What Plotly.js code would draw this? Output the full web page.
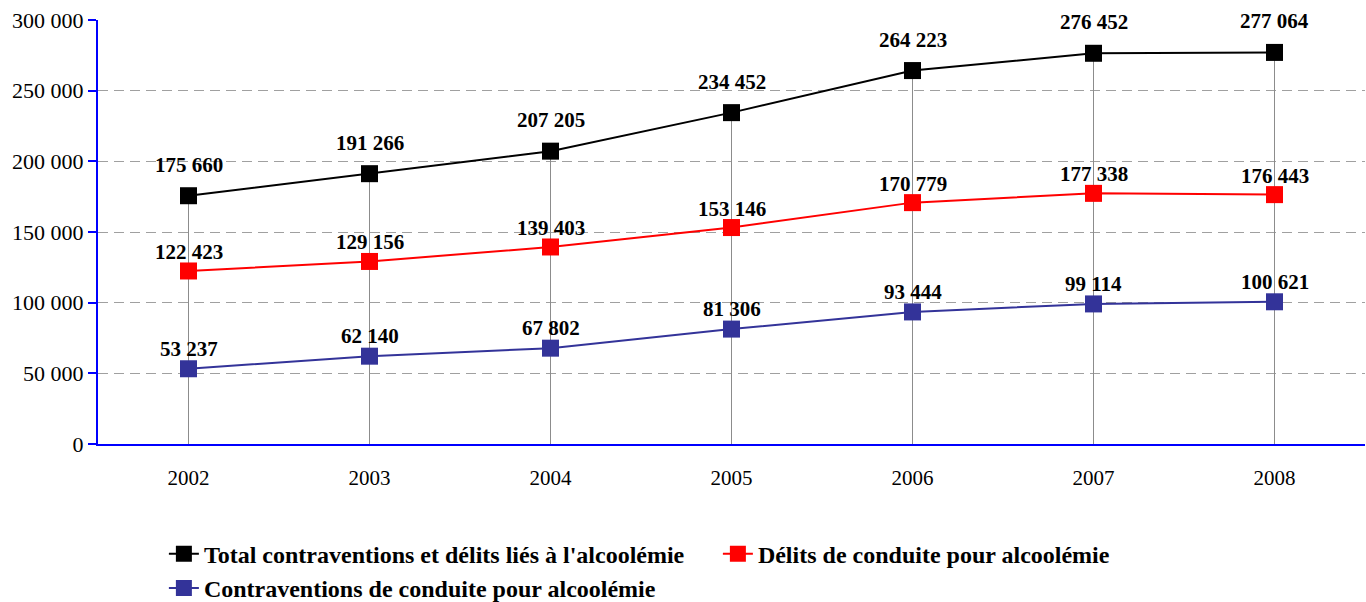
<!DOCTYPE html>
<html>
<head>
<meta charset="utf-8">
<script src="https://cdn.plot.ly/plotly-3.0.1.min.js"></script>
<style>html,body{margin:0;padding:0;background:#fff;}#chart{width:1366px;height:602px;}</style>
</head>
<body>
<div id="chart"></div>
<script>
const years = ['2002', '2003', '2004', '2005', '2006', '2007', '2008'];
const totalValues = [175660, 191266, 207205, 234452, 264223, 276452, 277064];
const delitsValues = [122423, 129156, 139403, 153146, 170779, 177338, 176443];
const contraventionsValues = [53237, 62140, 67802, 81306, 93444, 99114, 100621];
const seriesNames = [
  "Total contraventions et délits liés à l'alcoolémie",
  "Délits de conduite pour alcoolémie",
  "Contraventions de conduite pour alcoolémie"
];
const yTicks = [0, 50000, 100000, 150000, 200000, 250000, 300000];

const serif = 'Liberation Serif, Times New Roman, serif';
function fmt(v) {
  return String(v).replace(/\B(?=(\d{3})+(?!\d))/g, ' ');
}

// drop lines from axis to highest point
const dropX = [], dropY = [];
years.forEach((y, i) => { dropX.push(y, y, null); dropY.push(0, totalValues[i], null); });

const series = [
  {name: seriesNames[0], y: totalValues, color: '#000000', shift: 31},
  {name: seriesNames[1], y: delitsValues, color: '#FF0000', shift: 19},
  {name: seriesNames[2], y: contraventionsValues, color: '#333399', shift: 20}
];

const traces = [{
  x: dropX, y: dropY, mode: 'lines', showlegend: false, hoverinfo: 'skip',
  line: {color: '#8c8c8c', width: 1}
}];
series.forEach(s => traces.push({
  x: years, y: s.y, name: s.name, mode: 'lines+markers',
  line: {color: s.color, width: 2},
  marker: {symbol: 'square', size: 17, color: s.color}
}));

const annotations = [];
series.forEach(s => s.y.forEach((v, i) => annotations.push({
  x: i, y: v, xref: 'x', yref: 'y', text: '<b>' + fmt(v) + '</b>', showarrow: false,
  yshift: s.shift, font: {family: serif, size: 21, color: '#000'},
  xanchor: 'center', yanchor: 'middle'
})));

const layout = {
  width: 1366, height: 602,
  margin: {l: 98, r: 1, t: 20, b: 158, autoexpand: false},
  paper_bgcolor: '#fff', plot_bgcolor: '#fff',
  showlegend: true,
  font: {family: serif, size: 21, color: '#000'},
  xaxis: {
    type: 'category', range: [-0.5, 6.5], showgrid: false,
    showline: true, linecolor: '#0000FF', linewidth: 2,
    ticks: '', ticklabelstandoff: 14, zeroline: false,
    tickfont: {family: serif, size: 21, color: '#000'}
  },
  yaxis: {
    range: [0, 300000], tickvals: yTicks, ticktext: yTicks.map(fmt),
    showline: true, linecolor: '#0000FF', linewidth: 2,
    ticks: 'outside', ticklen: 8, tickcolor: '#0000FF', tickwidth: 2,
    showgrid: true, gridcolor: '#a0a0a0', griddash: '10px,6px', gridwidth: 1,
    zeroline: false, tickfont: {family: serif, size: 22, color: '#000'}
  },
  legend: {
    orientation: 'h', x: 0.052, xanchor: 'left', y: -0.207, yanchor: 'top',
    font: {family: serif, size: 24, color: '#000', weight: 'bold'},
    bgcolor: 'rgba(0,0,0,0)', entrywidth: 509, entrywidthmode: 'pixels'
  },
  annotations: annotations
};

Plotly.newPlot('chart', traces, layout, {displayModeBar: false, staticPlot: true});
</script>
</body>
</html>
